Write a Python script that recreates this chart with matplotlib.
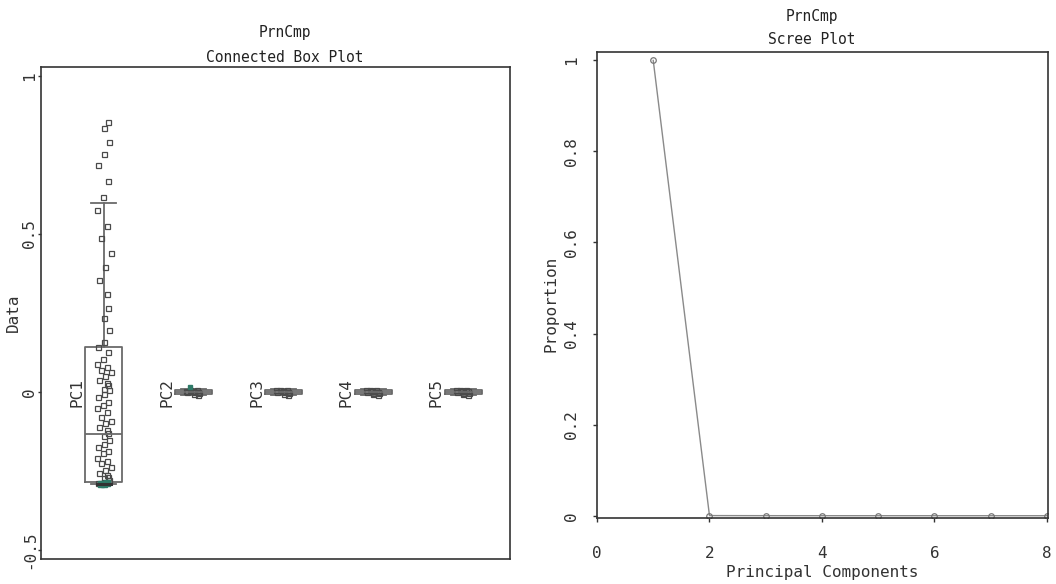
import numpy as np
import matplotlib
matplotlib.use("Agg")
import matplotlib.pyplot as plt

plt.rcParams['font.family'] = ['DejaVu Sans Mono']

# ---- data ---------------------------------------------------------------
components = ["PC1", "PC2", "PC3", "PC4", "PC5"]

pc1_scores = [0.854, 0.835, 0.791, 0.753, 0.718, 0.668, 0.617, 0.576, 0.525,
              0.487, 0.440, 0.396, 0.354, 0.310, 0.266, 0.234, 0.196, 0.158,
              0.142, 0.127, 0.104, 0.090, 0.080, 0.070, 0.063, 0.050, 0.038,
              0.030, 0.022, 0.010, 0.006, -0.005, -0.016, -0.030, -0.041,
              -0.050, -0.063, -0.079, -0.090, -0.098, -0.110, -0.120, -0.130,
              -0.140, -0.152, -0.163, -0.174, -0.185, -0.193, -0.209, -0.218,
              -0.225, -0.236, -0.247, -0.255, -0.263, -0.268, -0.272, -0.278,
              -0.283, -0.287]
pc1_low = [-0.290, -0.291, -0.289]
pc2_scores = [-0.008, -0.005, -0.003, -0.001, 0.0, 0.001, 0.002, 0.004, 0.006, 0.008]
pc2_high = [0.016]
pc3_scores = [-0.008, -0.006, -0.003, -0.001, 0.0, 0.001, 0.003, 0.005, 0.007, 0.008]
pc4_scores = [-0.008, -0.006, -0.004, -0.002, 0.0, 0.001, 0.003, 0.005, 0.006, 0.008]
pc5_scores = [-0.008, -0.006, -0.004, -0.002, 0.0, 0.002, 0.003, 0.005, 0.006, 0.008]

# box summaries: lower whisker, q1, median, q3, upper whisker
box_low = [-0.290, -0.010, -0.010, -0.010, -0.010]
box_q1 = [-0.285, -0.006, -0.006, -0.006, -0.006]
box_med = [-0.133, 0.000, 0.000, 0.000, 0.000]
box_q3 = [0.142, 0.006, 0.006, 0.006, 0.006]
box_high = [0.598, 0.010, 0.010, 0.010, 0.010]

scree_pc = [1, 2, 3, 4, 5, 6, 7, 8]
scree_prop = [0.9995, 0.0003, 0.0001, 0.00005, 0.00003, 0.00002, 0.00001, 0.000005]

# ---- figure -------------------------------------------------------------
W, H = 1056, 584
fig = plt.figure(figsize=(W / 100, H / 100), dpi=100)
fig.patch.set_facecolor("white")

edge = "#333333"
boxc = "#6a6a6a"
ptc = "#4a4a4a"
teal = "#2f7a68"
tick_fs = 11.5

def px_rect(l, t, r, b):
    return [l / W, 1 - b / H, (r - l) / W, (b - t) / H]

# ---- connected box plot -------------------------------------------------
ax = fig.add_axes(px_rect(41, 67, 510, 559))
pos = np.arange(1, len(components) + 1)
stats = []
for i, name in enumerate(components):
    stats.append(dict(label=name, whislo=box_low[i], q1=box_q1[i], med=box_med[i],
                      q3=box_q3[i], whishi=box_high[i], fliers=[]))
ax.bxp(stats, positions=pos, widths=0.41, showfliers=False, capwidths=0.28,
       boxprops=dict(color=boxc, linewidth=1.3),
       medianprops=dict(color=boxc, linewidth=1.3),
       whiskerprops=dict(color=boxc, linewidth=1.3),
       capprops=dict(color=boxc, linewidth=1.3), manage_ticks=False)

jitter = [0.045, 0.0, 0.055, 0.0, -0.065, 0.045, -0.01, -0.075, 0.03,
          -0.035, 0.075, 0.01, -0.055, 0.035]
groups = [pc1_scores, pc2_scores, pc3_scores, pc4_scores, pc5_scores]
for i, vals in enumerate(groups):
    xs = [pos[i] + jitter[k % len(jitter)] * (1.0 if i == 0 else 1.1)
          for k in range(len(vals))]
    ax.plot(xs, vals, linestyle="none", marker="s", markersize=3.6,
            markerfacecolor="none", markeredgecolor=ptc, markeredgewidth=0.9)

ax.plot([pos[0] - 0.03, pos[0], pos[0] + 0.03], pc1_low, linestyle="none",
        marker="s", markersize=3.8, markerfacecolor=teal, markeredgecolor=teal)
ax.plot([pos[0] - 0.08, pos[0] + 0.08], [pc1_low[0], pc1_low[0]],
        color="#333333", linewidth=2.2)
ax.plot([pos[1] - 0.04], pc2_high, linestyle="none", marker="s",
        markersize=3.4, markerfacecolor=teal, markeredgecolor=teal)

for i, name in enumerate(components):
    ax.text(pos[i] - 0.3, -0.003, name, rotation=90, ha="center", va="center",
            fontsize=11.5, color="#333333")

ax.set_xlim(0.30, 5.52)
ax.set_ylim(-0.528, 1.028)
ax.set_xticks([])
ax.set_yticks([-0.5, 0, 0.5, 1])
ax.set_yticklabels(["-0.5", "0", "0.5", "1"], rotation=90, va="center",
                   fontsize=tick_fs, color="#333333")
ax.tick_params(axis="y", length=2, width=1, color=edge, pad=1)
ax.set_ylabel("Data", fontsize=11.5, color="#333333", labelpad=1)
for s in ax.spines.values():
    s.set_color(edge)
    s.set_linewidth(1.2)
fig.text(285 / W, 1 - 32 / H, "PrnCmp", ha="center", va="center",
         fontsize=10.5, color="#222222")
fig.text(285 / W, 1 - 57 / H, "Connected Box Plot", ha="center", va="center",
         fontsize=10.5, color="#222222")

# ---- scree plot ---------------------------------------------------------
ax2 = fig.add_axes(px_rect(597, 52, 1048, 518))
ax2.plot(scree_pc, scree_prop, color="#8a8a8a", linewidth=1.0, marker="o",
         markersize=4, markerfacecolor="none", markeredgecolor="#777777",
         markeredgewidth=0.9)
ax2.set_xlim(0, 8.02)
ax2.set_ylim(-0.005, 1.018)
ax2.set_xticks([0, 2, 4, 6, 8])
ax2.set_xticklabels(["0", "2", "4", "6", "8"], fontsize=tick_fs, color="#333333")
ax2.set_yticks([0, 0.2, 0.4, 0.6, 0.8, 1.0])
ax2.set_yticklabels(["0", "0.2", "0.4", "0.6", "0.8", "1"], rotation=90,
                    va="center", fontsize=tick_fs, color="#333333")
ax2.tick_params(length=3, width=1, color=edge)
ax2.tick_params(axis="y", pad=10)
ax2.tick_params(axis="x", pad=17)
ax2.set_xlabel("Principal Components", fontsize=11.5, color="#333333", labelpad=3)
ax2.set_ylabel("Proportion", fontsize=11.5, color="#333333", labelpad=4,
               y=0.46)
for s in ax2.spines.values():
    s.set_color(edge)
    s.set_linewidth(1.2)
fig.text(812 / W, 1 - 17 / H, "PrnCmp", ha="center", va="center",
         fontsize=10.5, color="#222222")
fig.text(812 / W, 1 - 40 / H, "Scree Plot", ha="center", va="center",
         fontsize=10.5, color="#222222")

fig.savefig("out.png", dpi=100, facecolor="white")
